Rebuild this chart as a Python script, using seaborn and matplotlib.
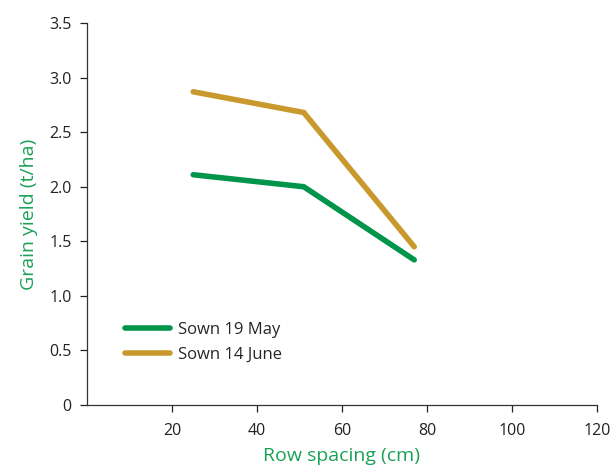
import matplotlib
matplotlib.use("Agg")
import matplotlib.pyplot as plt
import seaborn as sns
import pandas as pd

sns.set_theme(style="ticks")
plt.rcParams['font.family'] = ['Open Sans', 'DejaVu Sans']

# data
row_spacing = [25, 51, 77]
sown_19_may = [2.11, 2.00, 1.33]
sown_14_june = [2.87, 2.68, 1.45]
series_names = ["Sown 19 May", "Sown 14 June"]
colors = ["#00954A", "#C9992E"]

df = pd.DataFrame({
    "Row spacing": row_spacing * 2,
    "Yield": sown_19_may + sown_14_june,
    "Sowing": [series_names[0]] * 3 + [series_names[1]] * 3,
})

fig = plt.figure(figsize=(6.11, 4.65), dpi=100)
ax = fig.add_axes([0.1424, 0.129, 0.8346, 0.8215])

sns.lineplot(data=df, x="Row spacing", y="Yield", hue="Sowing",
             palette=colors, linewidth=4.0, ax=ax, sort=False,
             solid_capstyle="round", solid_joinstyle="miter")

ax.set_xlim(0, 120)
ax.set_ylim(0, 3.5)
ax.set_xticks([20, 40, 60, 80, 100, 120])
ax.set_yticks([0, 0.5, 1.0, 1.5, 2.0, 2.5, 3.0, 3.5])
ax.set_yticklabels(["0", "0.5", "1.0", "1.5", "2.0", "2.5", "3.0", "3.5"])
ax.tick_params(labelsize=11.5, colors="#222222", length=5, width=0.9)
ax.tick_params(axis="x", pad=8)
ax.tick_params(axis="y", pad=6)
for s in ["top", "right"]:
    ax.spines[s].set_visible(False)
for s in ["left", "bottom"]:
    ax.spines[s].set_color("#333333")
    ax.spines[s].set_linewidth(0.9)

ax.set_xlabel("Row spacing (cm)", color="#1BA157", fontsize=14, labelpad=6)
ax.set_ylabel("Grain yield (t/ha)", color="#1BA157", fontsize=14, labelpad=8)

leg = ax.legend(title=None, frameon=False, loc="lower left",
                bbox_to_anchor=(0.045, 0.07), fontsize=12, handlelength=2.7,
                handletextpad=0.5, labelspacing=0.55)

fig.savefig("out.png", dpi=100)
